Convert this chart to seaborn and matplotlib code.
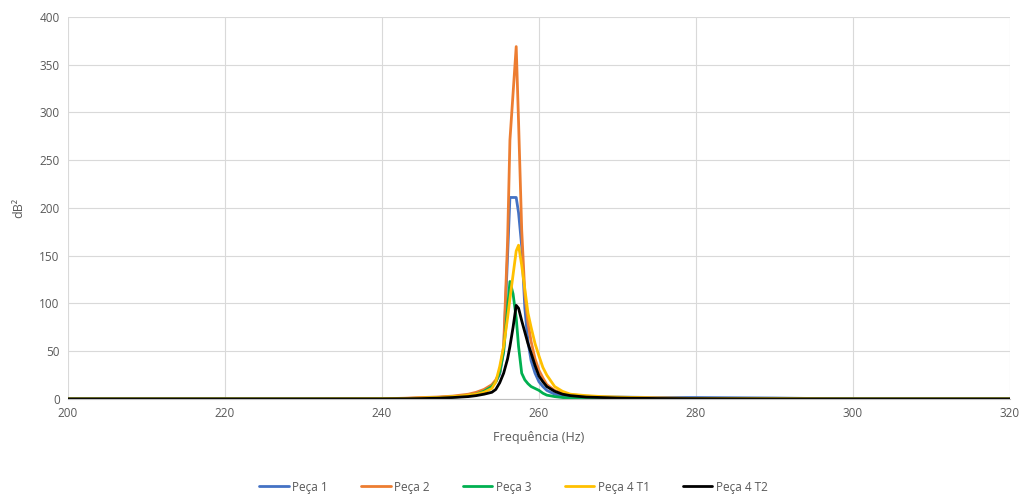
import matplotlib
matplotlib.use("Agg")
import matplotlib.pyplot as plt
import seaborn as sns
import pandas as pd

freq = [200, 230, 240, 243, 245, 247, 249, 250, 251, 252, 253, 254, 254.5, 255, 255.5, 256,
        256.3, 256.7, 257.1, 257.4, 257.8, 258.2, 258.6, 259, 259.5, 260, 260.5, 261, 262,
        263, 264, 266, 268, 270, 275, 280, 290, 300, 320]

peca1 = [0, 0, 0.2, 0.5, 1, 1.5, 2.5, 3, 4, 6, 9, 14, 18, 26, 50, 150,
         211, 211, 211, 195, 160, 95, 60, 40, 27, 18, 13, 9, 5,
         3.5, 3, 2.5, 2, 2, 1.5, 1.5, 1, 0, 0]
peca2 = [0, 0, 0.2, 0.8, 1.5, 2, 3, 4, 5, 7, 10, 15, 20, 28, 55, 165,
         271, 320, 369, 290, 177, 110, 80, 60, 42, 30, 22, 15, 9,
         6, 4.5, 3, 2, 1.5, 1, 0.5, 0, 0, 0]
peca3 = [0, 0, 0.1, 0.3, 0.6, 1, 2, 2.5, 3.5, 5, 8, 13, 18, 28, 50, 95,
         123, 110, 85, 55, 27, 20, 16, 13, 11, 9, 6, 4, 2.5,
         1.5, 1, 0.5, 0.3, 0.2, 0, 0, 0, 0, 0]
peca4t1 = [0, 0, 0.2, 0.5, 1, 1.5, 2.5, 3, 4, 5, 7, 11, 18, 34, 55, 85,
           105, 130, 155, 161, 140, 115, 90, 75, 58, 45, 33, 25, 13,
           8, 5, 3.5, 2.5, 2, 1, 0.5, 0.3, 0, 0]
peca4t2 = [0, 0, 0, 0.2, 0.4, 0.8, 1.5, 2, 2.5, 3.5, 5, 7, 10, 17, 27, 42,
           55, 75, 98, 95, 82, 70, 58, 48, 35, 24, 18, 13, 8,
           5, 3.5, 2, 1.5, 1, 0.5, 0.3, 0, 0, 0]

series_names = ["Peça 1", "Peça 2", "Peça 3", "Peça 4 T1", "Peça 4 T2"]
series_vals = [peca1, peca2, peca3, peca4t1, peca4t2]
colors = ["#4472C4", "#ED7D31", "#00B050", "#FFC000", "#000000"]

rows = []
for name, vals in zip(series_names, series_vals):
    for f, v in zip(freq, vals):
        rows.append({"freq": f, "val": v, "serie": name})
df = pd.DataFrame(rows)

sns.set_theme(style="white")
plt.rcParams['font.family'] = ['Open Sans', 'DejaVu Sans']

fig = plt.figure(figsize=(10.27, 4.95), dpi=100)
ax = fig.add_axes([0.0662, 0.194, 0.9172, 0.7717])

sns.lineplot(data=df, x="freq", y="val", hue="serie", hue_order=series_names,
             palette=colors, linewidth=2.0, sort=False, estimator=None, ax=ax, legend=True)

ax.set_xlim(200, 320)
ax.set_ylim(0, 400)
ax.set_xticks(range(200, 321, 20))
ax.set_yticks(range(0, 401, 50))
ax.grid(True, color="#D9D9D9", linewidth=0.8)
ax.set_axisbelow(True)
for s in ["top", "right", "left"]:
    ax.spines[s].set_visible(False)
ax.spines["bottom"].set_color("#BFBFBF")
ax.spines["bottom"].set_linewidth(0.8)
ax.tick_params(axis="both", colors="#595959", labelsize=8.5, length=0, pad=6)
ax.set_xlabel("Frequência (Hz)", color="#595959", fontsize=9, labelpad=8)
ax.set_ylabel("dB²", color="#595959", fontsize=9, labelpad=10)

handles, labels = ax.get_legend_handles_labels()
ax.legend_.remove()
fig.legend(handles, labels, loc="center", bbox_to_anchor=(0.5, 0.016), ncol=5,
           frameon=False, fontsize=8.5, handlelength=2.5, handletextpad=0.3,
           columnspacing=2.8, labelcolor="#595959")

fig.savefig("out.png", dpi=100)
